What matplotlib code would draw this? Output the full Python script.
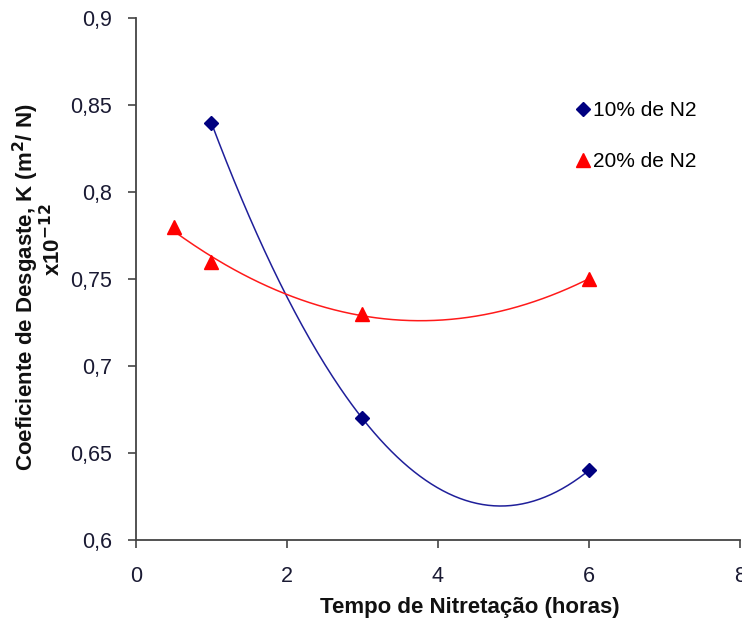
import numpy as np
import matplotlib.pyplot as plt

# dados
tempo_10 = [1, 3, 6]
k_10 = [0.84, 0.67, 0.64]
tempo_20 = [0.5, 1, 3, 6]
k_20 = [0.78, 0.76, 0.73, 0.75]

plt.rcParams['font.family'] = ['Liberation Sans', 'DejaVu Sans']

fig = plt.figure(figsize=(7.42, 6.28), dpi=100)
ax = fig.add_axes([0.183, 0.140, 0.814, 0.831])

# linhas de tendencia polinomiais (ordem 2)
xs = np.linspace(min(tempo_10), max(tempo_10), 200)
p10 = np.polyfit(tempo_10, k_10, 2)
ax.plot(xs, np.polyval(p10, xs), color='#1f1f9a', lw=1.1)
xs = np.linspace(min(tempo_20), max(tempo_20), 200)
p20 = np.polyfit(tempo_20, k_20, 2)
ax.plot(xs, np.polyval(p20, xs), color='#ff1a1a', lw=1.1)

ax.plot(tempo_10, k_10, 'D', color='#000080', ms=7, ls='none', label='10% de N2')
ax.plot(tempo_20, k_20, '^', color='#ff0000', ms=9.5, ls='none', label='20% de N2')

ax.set_xlim(0, 8)
ax.set_ylim(0.6, 0.9)
ax.set_xticks([0, 2, 4, 6, 8])
ax.set_yticks([0.6, 0.65, 0.7, 0.75, 0.8, 0.85, 0.9])
ax.set_xticklabels(['0', '2', '4', '6', '8'])
ax.set_yticklabels(['0,6', '0,65', '0,7', '0,75', '0,8', '0,85', '0,9'])
ax.tick_params(labelsize=15.5, colors='#444444', labelcolor='#1a1a33', length=6, width=1.2)
ax.tick_params(axis='y', pad=11)
ax.tick_params(axis='x', pad=13)
for s in ['top', 'right']:
    ax.spines[s].set_visible(False)
for s in ['left', 'bottom']:
    ax.spines[s].set_color('#444444')
    ax.spines[s].set_linewidth(1.3)

lab = dict(fontsize=16, fontweight='bold', color='#111111')
fig.text(0.633, 0.032, 'Tempo de Nitretação (horas)', ha='center', va='center', **lab)
fig.text(0.035, 0.543, 'Coeficiente de Desgaste, K (m$^{\\mathbf{2}}$/ N)', rotation=90,
         ha='center', va='center', **lab)
fig.text(0.071, 0.618, 'x10$^{\\mathbf{-12}}$', rotation=90, ha='center', va='center', **lab)

ax.legend(loc='upper left', bbox_to_anchor=(0.697, 0.877), frameon=False, fontsize=15,
          handlelength=0.7, handletextpad=0.15, labelspacing=1.55)

fig.savefig('out.png', dpi=100)
